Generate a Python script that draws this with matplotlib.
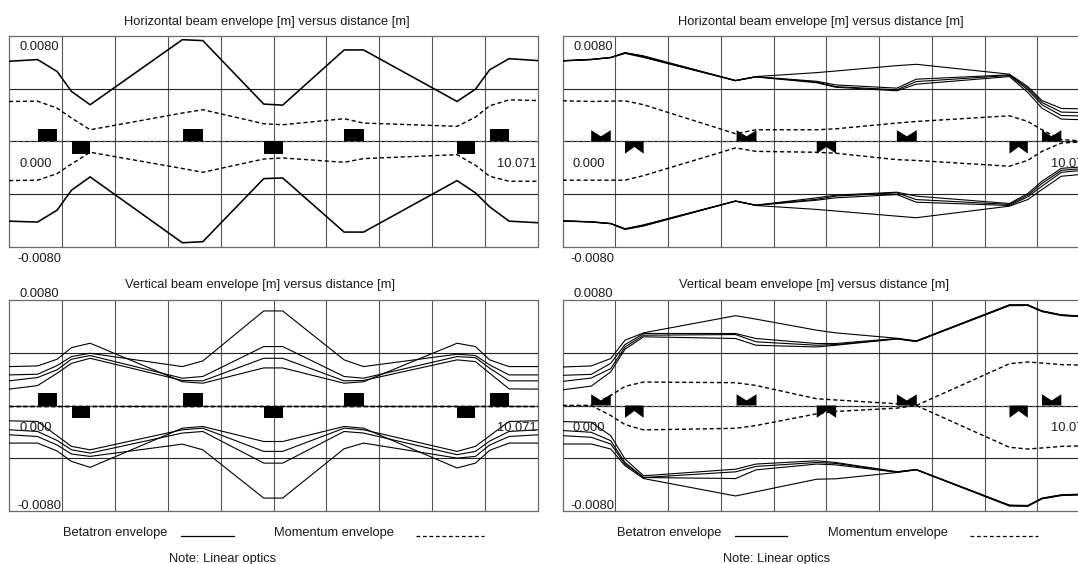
import numpy as np
import matplotlib
matplotlib.use("Agg")
import matplotlib.pyplot as plt
from matplotlib.patches import Rectangle, Polygon
from matplotlib.lines import Line2D

plt.rcParams['font.family'] = ['Liberation Sans', 'DejaVu Sans']

# ---------------- data ----------------
L_TOTAL = 10.071
Y_MAX = 0.008

# longitudinal positions of the envelope points [m]
s = [0.0, 0.544, 0.917, 1.19, 1.545, 3.30, 3.69, 4.85, 5.21, 6.38, 6.75, 8.53, 8.88, 9.15, 9.52, 10.071]

# quadrupoles: start, end [m] and side (+1 focusing drawn above, -1 below)
quad_start = [0.544, 1.19, 3.32, 4.85, 6.38, 8.53, 9.15]
quad_end = [0.917, 1.545, 3.70, 5.22, 6.76, 8.88, 9.52]
quad_side = [1, -1, 1, -1, 1, -1, 1]

# ---- top-left: horizontal envelope (mm) ----
tl_beta_top = [6.08, 6.21, 5.30, 3.79, 2.78, 7.72, 7.65, 2.83, 2.75, 6.94, 6.94, 3.03, 3.96, 5.43, 6.28, 6.13]
tl_beta_bot = [-6.06, -6.13, -5.22, -3.71, -2.70, -7.70, -7.62, -2.83, -2.78, -6.89, -6.89, -2.98, -3.91, -4.97, -6.06, -6.18]
tl_mom_top = [3.03, 3.05, 2.52, 1.77, 0.88, 2.15, 2.40, 1.34, 1.26, 1.72, 1.39, 1.14, 1.84, 2.70, 3.15, 3.10]
tl_mom_bot = [-2.98, -2.95, -2.45, -1.72, -0.83, -2.06, -2.35, -1.34, -1.26, -1.59, -1.31, -1.01, -1.82, -2.65, -3.03, -3.03]

# ---- top-right: horizontal envelope (mm) ----
tr_beta_top_1 = [6.13, 6.23, 6.38, 6.74, 6.49, 4.62, 4.92, 5.22, 5.34, 5.75, 5.85, 5.10, 4.16, 3.10, 2.50, 2.45]
tr_beta_top_2 = [6.12, 6.22, 6.37, 6.72, 6.45, 4.62, 4.91, 4.56, 4.29, 4.04, 4.72, 5.05, 4.04, 2.95, 2.22, 2.18]
tr_beta_top_3 = [6.11, 6.21, 6.36, 6.70, 6.41, 4.61, 4.90, 4.50, 4.16, 3.91, 4.54, 5.00, 3.91, 2.78, 1.96, 1.92]
tr_beta_top_4 = [6.10, 6.20, 6.35, 6.68, 6.37, 4.60, 4.89, 4.45, 4.11, 3.84, 4.34, 4.92, 3.71, 2.52, 1.69, 1.62]
tr_beta_bot_1 = [-6.06, -6.13, -6.26, -6.69, -6.43, -4.54, -4.87, -5.17, -5.29, -5.68, -5.80, -4.92, -4.42, -3.66, -2.65, -2.45]
tr_beta_bot_2 = [-6.05, -6.12, -6.25, -6.67, -6.40, -4.54, -4.86, -4.47, -4.29, -4.04, -4.62, -4.87, -4.21, -3.41, -2.35, -2.15]
tr_beta_bot_3 = [-6.04, -6.11, -6.24, -6.65, -6.37, -4.53, -4.85, -4.40, -4.16, -3.91, -4.42, -4.79, -4.09, -3.20, -2.20, -2.02]
tr_beta_bot_4 = [-6.03, -6.10, -6.23, -6.63, -6.34, -4.53, -4.84, -4.29, -4.09, -3.86, -4.16, -4.72, -3.96, -3.03, -2.05, -1.90]
tr_mom_top = [3.08, 3.03, 3.05, 3.08, 2.78, 0.58, 0.88, 0.88, 0.95, 1.39, 1.51, 1.94, 1.51, 0.88, 0.13, 0.0]
tr_mom_bot = [-2.95, -2.95, -2.95, -2.95, -2.60, -0.50, -0.76, -0.83, -0.90, -1.39, -1.45, -1.89, -1.44, -0.76, -0.13, 0.0]

# ---- bottom-left: vertical envelope (mm) ----
bl_beta_top_1 = [2.95, 3.00, 3.51, 4.39, 4.72, 1.80, 1.69, 2.85, 2.85, 1.69, 1.80, 4.72, 4.47, 3.46, 2.95, 2.95]
bl_beta_top_2 = [2.32, 2.37, 3.03, 3.71, 3.96, 2.95, 3.38, 7.17, 7.17, 3.46, 2.95, 3.89, 3.79, 3.08, 2.32, 2.32]
bl_beta_top_3 = [1.87, 2.12, 2.71, 3.51, 3.79, 2.07, 2.20, 4.47, 4.47, 2.20, 2.07, 3.71, 3.63, 2.83, 1.87, 1.87]
bl_beta_top_4 = [1.24, 1.51, 2.45, 3.20, 3.58, 1.90, 1.87, 3.58, 3.58, 1.87, 1.90, 3.46, 3.33, 2.45, 1.26, 1.24]
bl_beta_bot_1 = [-2.85, -2.85, -3.45, -4.24, -4.69, -1.72, -1.59, -2.73, -2.73, -1.59, -1.72, -4.74, -4.37, -3.40, -2.85, -2.85]
bl_beta_bot_2 = [-2.22, -2.35, -3.00, -3.68, -3.86, -2.93, -3.36, -7.02, -7.02, -3.28, -2.85, -3.99, -3.86, -3.00, -2.35, -2.22]
bl_beta_bot_3 = [-1.84, -1.97, -2.65, -3.36, -3.61, -2.09, -1.97, -4.37, -4.37, -1.97, -2.09, -3.73, -3.48, -2.70, -1.97, -1.84]
bl_beta_bot_4 = [-1.16, -1.21, -2.30, -3.10, -3.36, -1.84, -1.72, -3.48, -3.48, -1.72, -1.84, -3.48, -3.10, -2.30, -1.21, -1.16]
bl_mom_top = [0.0] * 16
bl_mom_bot = [0.0] * 16

# ---- bottom-right: vertical envelope (mm) ----
br_beta_top_1 = [2.92, 3.00, 3.56, 4.95, 5.51, 6.81, 6.55, 5.71, 5.51, 5.10, 4.90, 7.64, 7.64, 7.18, 6.88, 6.75]
br_beta_top_2 = [2.29, 2.36, 3.20, 4.62, 5.46, 5.46, 5.08, 4.70, 4.70, 5.08, 4.88, 7.62, 7.62, 7.16, 6.86, 6.73]
br_beta_top_3 = [1.83, 2.08, 2.80, 4.44, 5.33, 5.38, 4.83, 4.57, 4.62, 5.06, 4.87, 7.60, 7.60, 7.14, 6.84, 6.71]
br_beta_top_4 = [1.19, 1.47, 2.55, 4.27, 5.21, 5.08, 4.57, 4.44, 4.57, 5.04, 4.85, 7.57, 7.58, 7.12, 6.82, 6.69]
br_beta_bot_1 = [-2.92, -2.92, -3.30, -4.57, -5.54, -6.86, -6.54, -5.59, -5.56, -5.08, -4.88, -7.62, -7.64, -7.08, -6.83, -6.75]
br_beta_bot_2 = [-2.29, -2.41, -2.92, -4.44, -5.46, -5.54, -4.88, -4.44, -4.50, -5.06, -4.87, -7.60, -7.62, -7.06, -6.81, -6.73]
br_beta_bot_3 = [-1.90, -2.03, -2.67, -4.32, -5.46, -5.03, -4.62, -4.32, -4.39, -5.04, -4.86, -7.58, -7.60, -7.04, -6.79, -6.71]
br_beta_bot_4 = [-1.22, -1.27, -2.29, -4.06, -5.33, -4.83, -4.44, -4.19, -4.32, -5.02, -4.85, -7.55, -7.58, -7.02, -6.77, -6.69]
br_mom_top = [0.0, 0.0, 0.76, 1.45, 1.78, 1.73, 1.52, 0.51, 0.42, 0.13, 0.0, -3.17, -3.30, -3.22, -3.10, -3.05]
br_mom_bot = [0.0, 0.0, -0.76, -1.45, -1.85, -1.73, -1.52, -0.63, -0.45, -0.20, 0.0, 3.17, 3.30, 3.22, 3.10, 3.05]

title_h = "Horizontal beam envelope [m] versus distance [m]"
title_v = "Vertical beam envelope [m] versus distance [m]"
label_top = "0.0080"
label_bot = "-0.0080"
label_start = "0.000"
label_end = "10.071"
legend_beta = "Betatron envelope"
legend_mom = "Momentum envelope"
note_text = "Note: Linear optics"

# ---------------- drawing ----------------
W, H = 1078, 564
fig = plt.figure(figsize=(W / 100, H / 100), dpi=100)
FS = 9.3
TXT = '#1a1a1a'
MM = 1e-3


def ftext(px, py, txt, ha='left'):
    fig.text(px / W, 1 - py / H, txt, ha=ha, va='baseline', fontsize=FS, color=TXT)


def panel(x0, y0, w, h, elem_style):
    ax = fig.add_axes([x0 / W, 1 - (y0 + h) / H, w / W, h / H])
    ax.set_xlim(0, L_TOTAL)
    ax.set_ylim(-Y_MAX, Y_MAX)
    ax.set_xticks([])
    ax.set_yticks([])
    for sp in ax.spines.values():
        sp.set_color('#6a6a6a')
        sp.set_linewidth(0.9)
    for k in range(1, 10):
        ax.axvline(k * L_TOTAL / 10, color='#555555', lw=0.8, zorder=1)
    for yv in (-Y_MAX / 2, Y_MAX / 2):
        ax.axhline(yv, color='#222222', lw=0.8, zorder=1)
    ax.axhline(0, color='black', lw=0.8, zorder=2)
    ax.plot([0, L_TOTAL], [0, 0], color='#555555', lw=0.9, dashes=(3, 2), zorder=2)
    for a, b, sd in zip(quad_start, quad_end, quad_side):
        if elem_style == 'rect':
            hh = 0.95 * MM
            ax.add_patch(Rectangle((a, 0 if sd > 0 else -hh), b - a, hh,
                                   facecolor='black', edgecolor='none', zorder=4))
        else:
            hh = 0.85 * MM
            m = 0.5 * (a + b)
            if sd > 0:
                pts = [(a, 0), (a, hh), (m, 0.45 * hh), (b, hh), (b, 0)]
            else:
                pts = [(a, 0), (a, -hh * 1.1), (m, -0.5 * hh), (b, -hh * 1.1), (b, 0)]
            ax.add_patch(Polygon(pts, closed=True, facecolor='black',
                                 edgecolor='none', zorder=4))
    return ax


def draw_lines(ax, beta_list, mom_list, lw):
    for yv in beta_list:
        ax.plot(s, np.asarray(yv) * MM, color='black', lw=lw, zorder=3,
                solid_joinstyle='miter')
    for yv in mom_list:
        ax.plot(s, np.asarray(yv) * MM, color='black', lw=1.0, dashes=(3, 2), zorder=3)


PANELS = [
    # x0, y0, w, h, style, title, beta, mom, lw, title offset, kind
    (9.0, 36.0, 529.0, 210.7, 'rect', title_h,
     [tl_beta_top, tl_beta_bot], [tl_mom_top, tl_mom_bot], 1.15, 'h'),
    (562.7, 36.0, 527.5, 210.7, 'bow', title_h,
     [tr_beta_top_1, tr_beta_top_2, tr_beta_top_3, tr_beta_top_4,
      tr_beta_bot_1, tr_beta_bot_2, tr_beta_bot_3, tr_beta_bot_4],
     [tr_mom_top, tr_mom_bot], 0.8, 'h'),
    (9.0, 300.0, 529.0, 211.0, 'rect', title_v,
     [bl_beta_top_1, bl_beta_top_2, bl_beta_top_3, bl_beta_top_4,
      bl_beta_bot_1, bl_beta_bot_2, bl_beta_bot_3, bl_beta_bot_4],
     [bl_mom_top, bl_mom_bot], 0.8, 'v'),
    (562.7, 300.0, 527.5, 211.0, 'bow', title_v,
     [br_beta_top_1, br_beta_top_2, br_beta_top_3, br_beta_top_4,
      br_beta_bot_1, br_beta_bot_2, br_beta_bot_3, br_beta_bot_4],
     [br_mom_top, br_mom_bot], 0.8, 'v'),
]

for x0, y0, w, h, style, title, betas, moms, lw, kind in PANELS:
    ax = panel(x0, y0, w, h, style)
    draw_lines(ax, betas, moms, lw)
    yc = y0 + h / 2
    if kind == 'h':
        ftext(x0 + 258, y0 - 11, title, ha='center')
        ftext(x0 + 10.6, y0 + 14.5, label_top)
        ftext(x0 + 8.0, y0 + h + 15.0, label_bot)
    else:
        ftext(x0 + 251, y0 - 12, title, ha='center')
        ftext(x0 + 10.6, y0 - 3.0, label_top)
        ftext(x0 + 8.0, y0 + h - 2.0, label_bot)
    ftext(x0 + 10.0, yc + 25.7, label_start)
    ftext(x0 + 527.7, yc + 25.7, label_end, ha='right')
    if kind == 'v':
        ftext(x0 + 54, 536, legend_beta)
        fig.add_artist(Line2D([(x0 + 172) / W, (x0 + 224.5) / W],
                              [1 - 535.5 / H] * 2, color='black', lw=0.9))
        ftext(x0 + 265.5, 536, legend_mom)
        fig.add_artist(Line2D([(x0 + 407) / W, (x0 + 475) / W],
                              [1 - 535.5 / H] * 2, color='black', lw=0.9,
                              dashes=(3, 2.2)))
        ftext(x0 + 160, 562, note_text)

fig.savefig("out.png", dpi=100)
